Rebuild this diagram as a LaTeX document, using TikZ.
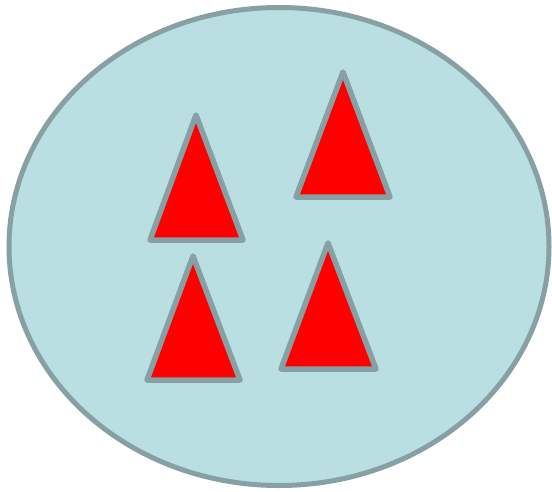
\documentclass[tikz,border=0pt]{standalone}
\usepackage{tikz}
\definecolor{setfill}{HTML}{B9DFE3}
\definecolor{setedge}{HTML}{87A0A3}
\definecolor{conered}{HTML}{FF0000}

\begin{document}
\begin{tikzpicture}[
  x=1pt, y=-1pt,
  setshape/.style={draw=setedge, fill=setfill, line width=5pt},
  cone/.style={draw=setedge, fill=conered, line width=5.5pt,
               line join=round, line cap=round},
]
\useasboundingbox (0,0) rectangle (552,491);
% the set
\draw[setshape] (279,246.5) ellipse [x radius=270, y radius=239];
% the four triangles inside it
\draw[cone] (196,115) -- (243,240) -- (150,240) -- cycle;
\draw[cone] (343,72)  -- (390,197) -- (296,197) -- cycle;
\draw[cone] (193,256) -- (240,380) -- (147,380) -- cycle;
\draw[cone] (328,243) -- (376,369) -- (281,369) -- cycle;
\end{tikzpicture}
\end{document}
